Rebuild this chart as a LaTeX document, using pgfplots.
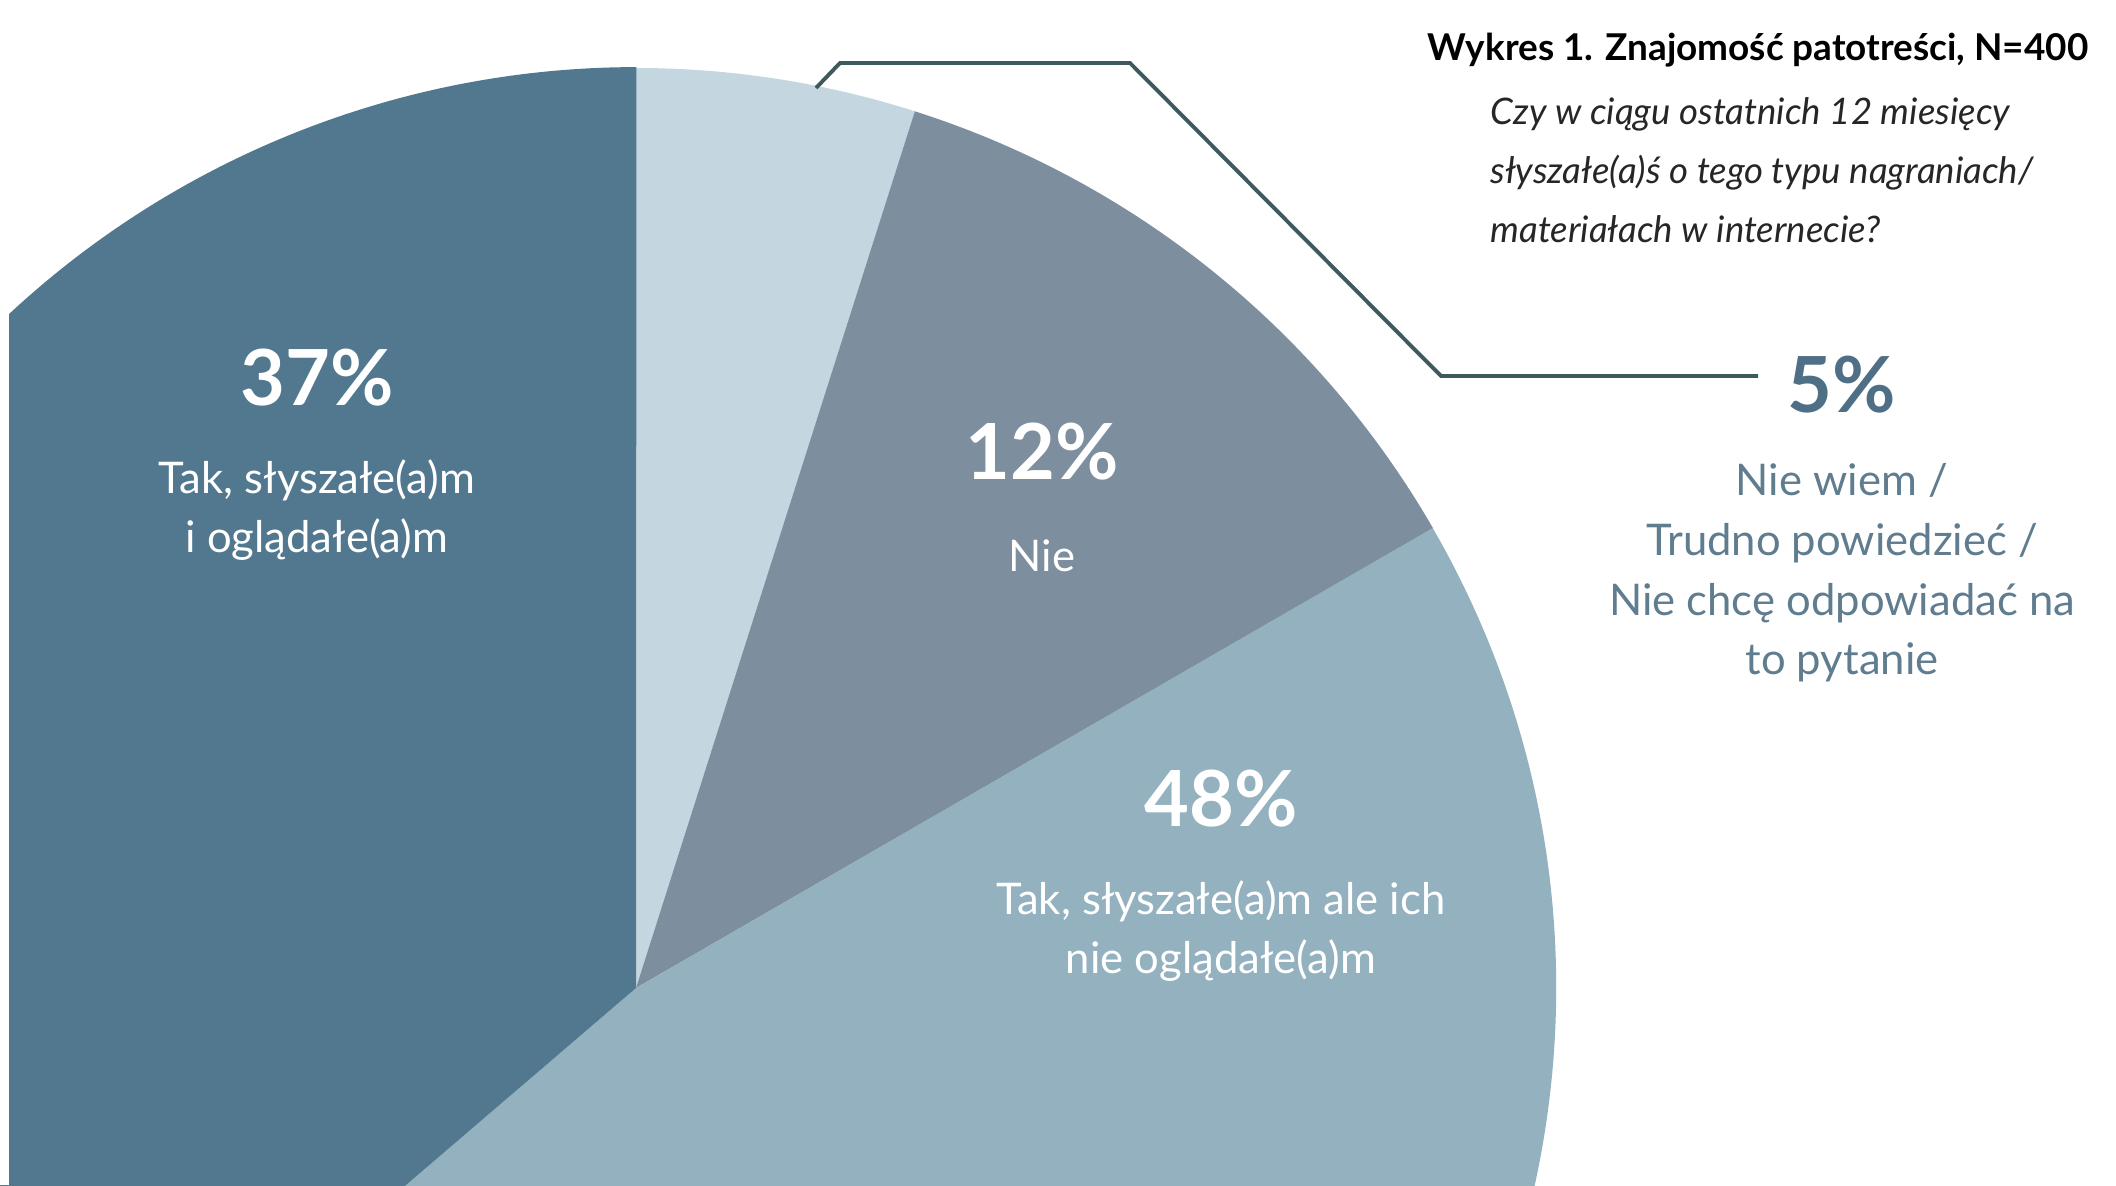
\documentclass[border=0pt]{standalone}
\usepackage{fontspec}
\setmainfont{Lato}
\usepackage{pgfplots}
\usepackage{pgfplotstable}
\pgfplotsset{compat=1.18}

\definecolor{pieTak}{HTML}{52788F}
\definecolor{pieNiewiem}{HTML}{C4D6DF}
\definecolor{pieNie}{HTML}{7D8E9E}
\definecolor{pieTakNie}{HTML}{93B1BF}
\definecolor{leader}{HTML}{3F5A5C}
\definecolor{pctdark}{HTML}{4E6F86}
\definecolor{labgrey}{HTML}{5F7D8F}

% shares in %, clockwise from 12 o'clock (rounded, they add up to 102)
\pgfplotstableread{
share
5
12
48
37
}\piedata

\begin{document}
\begin{tikzpicture}
\pgfplotstablegetelem{0}{share}\of\piedata \let\sA\pgfplotsretval
\pgfplotstablegetelem{1}{share}\of\piedata \let\sB\pgfplotsretval
\pgfplotstablegetelem{2}{share}\of\piedata \let\sC\pgfplotsretval
\pgfplotstablegetelem{3}{share}\of\piedata \let\sD\pgfplotsretval
\pgfmathsetmacro\degper{360/(\sA+\sB+\sC+\sD)}
% slice boundaries (degrees), starting at the top and going clockwise
\pgfmathsetmacro\bO{90}
\pgfmathsetmacro\bA{\bO-\degper*\sA}
\pgfmathsetmacro\bB{\bA-\degper*\sB}
\pgfmathsetmacro\bC{\bB-\degper*\sC}
\pgfmathsetmacro\bD{\bC-\degper*\sD}
\def\cx{636}\def\cy{197}\def\R{920}
\begin{axis}[
  x=0.01cm, y=0.01cm,
  xmin=0, xmax=2116, ymin=0, ymax=1185,
  hide axis,
  clip=true,
]
\fill[pieNiewiem] (axis cs:\cx,\cy) -- (axis cs:{\cx+\R*cos(\bO)},{\cy+\R*sin(\bO)}) arc[start angle=\bO, end angle=\bA, radius=9.2cm] -- cycle;
\fill[pieNie] (axis cs:\cx,\cy) -- (axis cs:{\cx+\R*cos(\bA)},{\cy+\R*sin(\bA)}) arc[start angle=\bA, end angle=\bB, radius=9.2cm] -- cycle;
\fill[pieTakNie] (axis cs:\cx,\cy) -- (axis cs:{\cx+\R*cos(\bB)},{\cy+\R*sin(\bB)}) arc[start angle=\bB, end angle=\bC, radius=9.2cm] -- cycle;
\fill[pieTak] (axis cs:\cx,\cy) -- (axis cs:{\cx+\R*cos(\bC)},{\cy+\R*sin(\bC)}) arc[start angle=\bC, end angle=\bD, radius=9.2cm] -- cycle;
\fill[white] (axis cs:0,0) rectangle (axis cs:9,1185);

% leader line to the 5% label
\draw[leader, line width=1.1pt, line join=miter] (axis cs:816,1097) -- (axis cs:840,1122) -- (axis cs:1130,1122) -- (axis cs:1441,809) -- (axis cs:1758,809);

% title and question
\node[anchor=east, inner sep=0pt, font=\fontsize{10.5}{12}\selectfont\bfseries] at (axis cs:2089,1135) {Wykres 1. Znajomość patotreści, N=400};
\node[anchor=west, inner sep=0pt, align=left, font=\fontsize{10.4}{16.8}\selectfont\itshape, text=black!85] at (axis cs:1490,1015)
  {Czy w ciągu ostatnich 12 miesięcy\\słyszałe(a)ś o tego typu nagraniach/\\materiałach w internecie?};

% slice labels
\node[font=\fontsize{22}{24}\selectfont\bfseries, text=white] at (axis cs:317,807) {37\%};
\node[align=center, font=\fontsize{12.4}{17}\selectfont, text=white] at (axis cs:317,675) {Tak, słyszałe(a)m\\i oglądałe(a)m};
\node[font=\fontsize{22}{24}\selectfont\bfseries, text=white] at (axis cs:1042,733) {12\%};
\node[font=\fontsize{12.4}{17}\selectfont, text=white] at (axis cs:1042,629) {Nie};
\node[font=\fontsize{22}{24}\selectfont\bfseries, text=white] at (axis cs:1221,386) {48\%};
\node[align=center, font=\fontsize{12.4}{17}\selectfont, text=white] at (axis cs:1221,254) {Tak, słyszałe(a)m ale ich\\nie oglądałe(a)m};
\node[font=\fontsize{22}{24}\selectfont\bfseries, text=pctdark] at (axis cs:1842,800) {5\%};
\node[align=center, font=\fontsize{12.4}{17}\selectfont, text=labgrey] at (axis cs:1842,612)
  {Nie wiem /\\Trudno powiedzieć /\\Nie chcę odpowiadać na\\to pytanie};
\end{axis}
\pgfresetboundingbox
\path[use as bounding box] (current axis.south west) rectangle (current axis.north east);
\end{tikzpicture}
\end{document}
